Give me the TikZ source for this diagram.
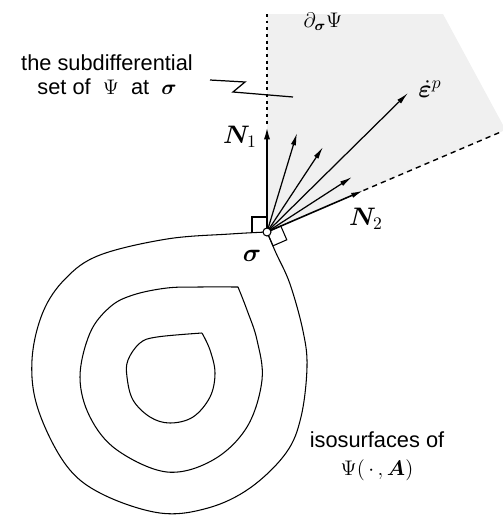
\documentclass[tikz,border=0pt]{standalone}
\usepackage{fontspec}
\setmainfont{Liberation Sans}
\usepackage{amsmath}
\usepackage{bm}
\usetikzlibrary{arrows.meta}
\begin{document}
\begin{tikzpicture}[x=0.02cm,y=-0.02cm,
  curve/.style={line width=0.6pt},
  fanarrow/.style={line width=0.7pt,-{Latex[length=7pt,width=3pt]}},
  mainarrow/.style={line width=1.1pt,-{Latex[length=7pt,width=3.5pt]}},
  txt/.style={font=\fontsize{12.4}{15}\selectfont,inner sep=0pt},
  mlab/.style={font=\fontsize{14}{16}\selectfont,inner sep=0pt},
  sq/.style={line width=0.6pt}]
\useasboundingbox (0,0) rectangle (503,515);
% key points
\coordinate (O) at (267,232);
\coordinate (N1tip) at (267,127);
\coordinate (A2) at (297,133);
\coordinate (A3) at (323,147);
\coordinate (EP) at (408,93);
\coordinate (A5) at (352,177);
\coordinate (N2tip) at (363.4,190.5);
\coordinate (DotTop) at (267,14);
\coordinate (DashEnd) at (503,131);
% shaded subdifferential cone
\fill[black!6] (DotTop) -- (443,14) -- (503,125) -- (DashEnd) -- (O) -- cycle;
% boundaries of the cone
\draw[line width=0.8pt,dash pattern=on 1.6pt off 2.2pt] (DotTop) -- (N1tip);
\draw[line width=0.8pt,dash pattern=on 3pt off 2.4pt] (N2tip) -- (DashEnd);
% isosurfaces
\draw[curve] plot[smooth,tension=0.6] coordinates {(267,232) (230,234) (167,239) (100,255) (66,278) (43,312) (32,360) (38,409) (66,465) (102,494) (160,513) (208,508) (250,488) (286,453) (301,417) (307,367) (303,331) (290,284) (276,253) (267,232)};
\draw[curve] plot[smooth,tension=0.6] coordinates {(238,287) (200,287) (167,288) (133,295) (110,307) (90,333) (80,377) (90,417) (117,450) (167,472) (213,460) (247,427) (262,380) (257,340) (247,310) (238,287)};
\draw[curve] plot[smooth,tension=0.6] coordinates {(202,333) (157,337) (140,343) (128,360) (127,377) (133,400) (150,417) (170,423) (193,417) (210,397) (215,373) (210,350) (202,333)};
% right-angle squares
\draw[sq] (O) -- (267,217) -- (252,217) -- (252,232);
\draw[sq] (O) -- (280.8,226.0) -- (286.8,239.8) -- (273.0,245.8) -- cycle;
% fan of normals
\draw[mainarrow] (O) -- (N1tip);
\draw[fanarrow] (O) -- (A2);
\draw[fanarrow] (O) -- (A3);
\draw[fanarrow] (O) -- (EP);
\draw[fanarrow] (O) -- (A5);
\draw[fanarrow,line width=0.9pt] (O) -- (N2tip);
% point sigma
\draw[line width=0.6pt,fill=white] (O) circle[radius=0.08cm];
% labels
\node[mlab] (lN1) at (240,137) {$\bm{N}_{1}$};
\node[mlab] (lN2) at (366,219) {$\bm{N}_{2}$};
\node[mlab] (lEP) at (430,89) {$\dot{\bm{\varepsilon}}^{p}$};
\node[mlab,font=\fontsize{12}{14}\selectfont] (lDS) at (323,22) {$\partial_{\bm{\sigma}}\Psi$};
\node[mlab] (lsig) at (252,256) {$\bm{\sigma}$};
\node[txt,align=center] (lsub) at (107,75) {the subdifferential\\[-1.5pt]set of \ $\Psi$\ \ at \ $\bm{\sigma}$};
\node[txt] (liso) at (377,440) {isosurfaces of};
\node[mlab,font=\fontsize{13}{15}\selectfont] (lpsi) at (377,470) {$\Psi(\,\cdot\,,\bm{A})$};
% leader line
\coordinate (L1) at (210,80);
\coordinate (L2) at (245,82);
\coordinate (L3) at (233,92);
\coordinate (L4) at (293,97);
\draw[line width=0.7pt] (L1) -- (L2) -- (L3) -- (L4);
\end{tikzpicture}
\end{document}
